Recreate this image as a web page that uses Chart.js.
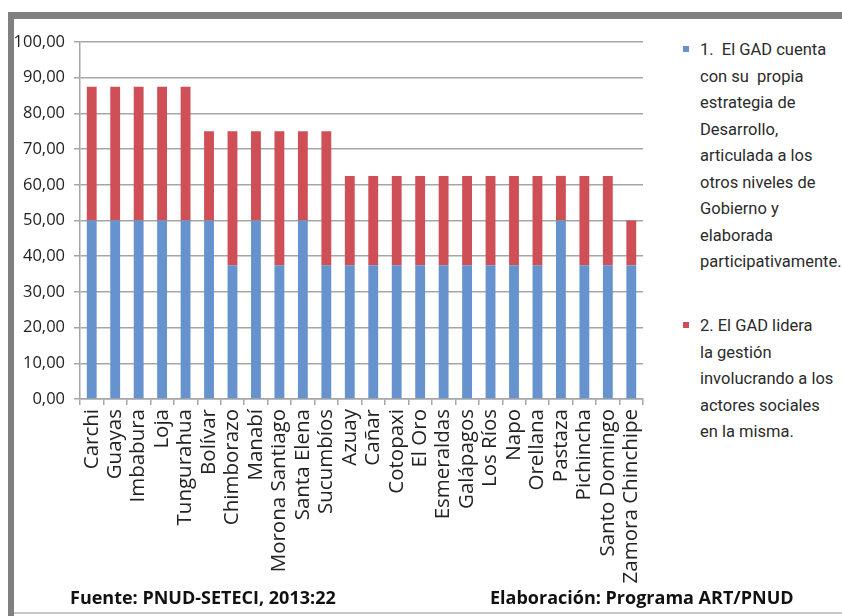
<!DOCTYPE html>
<html>
<head>
<meta charset="utf-8">
<script src="https://cdn.jsdelivr.net/npm/chart.js@4"></script>
<style>
  html, body { margin: 0; padding: 0; background: #fff; }
  body { width: 842px; height: 616px; position: relative; overflow: hidden; font-family: 'Open Sans', sans-serif; }
  .frameTop { position: absolute; left: 8px; top: 12px; width: 834px; height: 7px; background: #808080; }
  .frameLeft { position: absolute; left: 8px; top: 12px; width: 6px; height: 604px; background: #808080; }
  .frameBottom { position: absolute; left: 14px; top: 612px; width: 828px; height: 2px; background: #c8c8c8; }
  #wrap { position: absolute; left: 0; top: 0; width: 660px; height: 616px; }
  .legend { position: absolute; left: 683px; color: #2b2b2b; font-family: Roboto, sans-serif; font-size: 16.5px; line-height: 26.5px; }
  .legend .sw { position: absolute; left: 0; top: 9px; width: 6px; height: 6px; }
  .legend .txt { margin-left: 17px; white-space: nowrap; }
  .foot { position: absolute; top: 585px; font-weight: bold; font-size: 18px; color: #111; white-space: nowrap; }
</style>
</head>
<body>
<div class="frameTop"></div>
<div class="frameLeft"></div>
<div class="frameBottom"></div>
<div id="wrap"><canvas id="chart" width="660" height="616"></canvas></div>
<div class="legend" style="top:37px"><div class="sw" style="background:#6693cd"></div><div class="txt">1.&nbsp; El GAD cuenta<br>con su&nbsp; propia<br>estrategia de<br>Desarrollo,<br>articulada a los<br>otros niveles de<br>Gobierno y<br>elaborada<br>participativamente.</div></div>
<div class="legend" style="top:313px"><div class="sw" style="background:#cd4f56"></div><div class="txt">2. El GAD lidera<br>la gestión<br>involucrando a los<br>actores sociales<br>en la misma.</div></div>
<div class="foot" style="left:70px">Fuente: PNUD-SETECI, 2013:22</div>
<div class="foot" style="left:490px">Elaboración: Programa ART/PNUD</div>
<script>
const provinces = ['Carchi', 'Guayas', 'Imbabura', 'Loja', 'Tungurahua', 'Bolívar', 'Chimborazo', 'Manabí',
  'Morona Santiago', 'Santa Elena', 'Sucumbíos', 'Azuay', 'Cañar', 'Cotopaxi', 'El Oro', 'Esmeraldas',
  'Galápagos', 'Los Ríos', 'Napo', 'Orellana', 'Pastaza', 'Pichincha', 'Santo Domingo', 'Zamora Chinchipe']
const estrategia = [50, 50, 50, 50, 50, 50, 37.5, 50, 37.5, 50, 37.5, 37.5, 37.5, 37.5, 37.5, 37.5,
  37.5, 37.5, 37.5, 37.5, 50, 37.5, 37.5, 37.5]
const lidera = [37.5, 37.5, 37.5, 37.5, 37.5, 25, 37.5, 25, 37.5, 25, 37.5, 25, 25, 25, 25, 25,
  25, 25, 25, 25, 12.5, 25, 25, 12.5]
const seriesNames = ['1.  El GAD cuenta con su propia estrategia de Desarrollo, articulada a los otros niveles de Gobierno y elaborada participativamente.',
  '2. El GAD lidera la gestión involucrando a los actores sociales en la misma.']

const font = "'Open Sans', sans-serif"
const ctx = document.getElementById('chart').getContext('2d')
new Chart(ctx, {
  type: 'bar',
  data: {
    labels: provinces,
    datasets: [
      { label: seriesNames[0], data: estrategia, backgroundColor: '#6693cd', barPercentage: 0.42, categoryPercentage: 1 },
      { label: seriesNames[1], data: lidera, backgroundColor: '#cf4f57', barPercentage: 0.42, categoryPercentage: 1 }
    ]
  },
  options: {
    responsive: false,
    animation: false,
    layout: { padding: { top: 42, right: 5, bottom: 0, left: 0 } },
    plugins: { legend: { display: false }, tooltip: { enabled: false } },
    scales: {
      x: {
        stacked: true,
        grid: { display: true, drawOnChartArea: false, color: '#a6a6a6', lineWidth: 1.5, tickLength: 6 },
        border: { color: '#a6a6a6', width: 1.5 },
        ticks: { color: '#222', font: { family: font, size: 20.5 }, minRotation: 90, maxRotation: 90, padding: 4, autoSkip: false },
        afterFit: (scale) => { scale.height = 217 }
      },
      y: {
        stacked: true,
        min: 0,
        max: 100,
        ticks: {
          stepSize: 10,
          color: '#222',
          padding: 9,
          font: { family: font, size: 16.5 },
          callback: (v) => v.toFixed(2).replace('.', ',')
        },
        grid: { color: '#a6a6a6', lineWidth: 1.5, tickLength: 6 },
        border: { color: '#a6a6a6', width: 1.5 },
        afterFit: (scale) => { scale.width = 80 }
      }
    }
  }
})
</script>
</body>
</html>
